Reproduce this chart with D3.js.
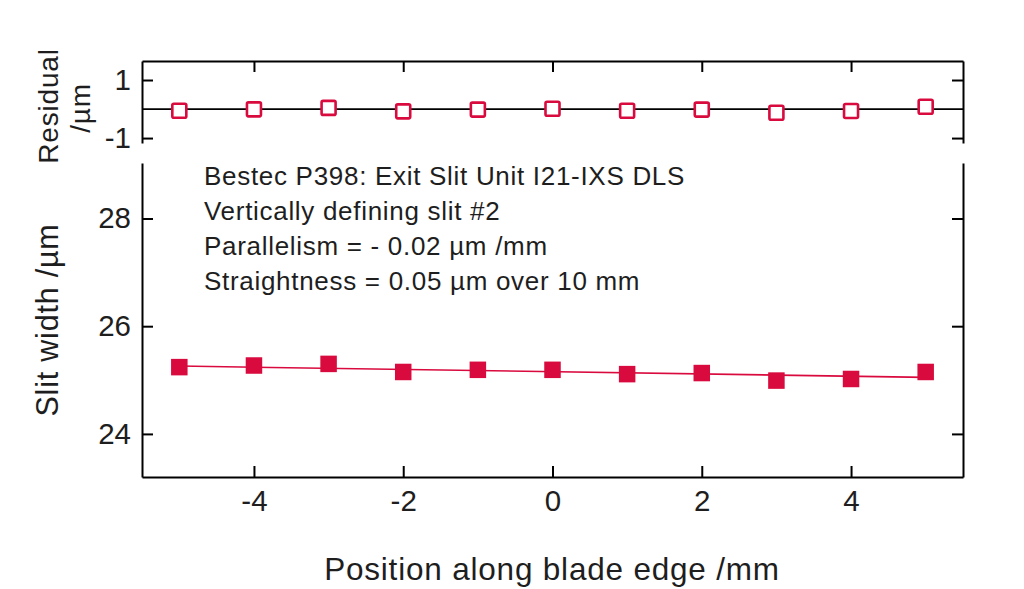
<!DOCTYPE html>
<html>
<head>
<meta charset="utf-8">
<script src="https://cdn.jsdelivr.net/npm/d3@7"></script>
<style>
html,body{margin:0;padding:0;background:#fff;}
svg{display:block;font-family:"Liberation Sans",Arial,Helvetica,sans-serif;}
</style>
</head>
<body>
<svg id="chart" width="1024" height="589"></svg>
<script>
// ---- data ----
const positions = [-5, -4, -3, -2, -1, 0, 1, 2, 3, 4, 5];
const slitWidth = [25.24, 25.27, 25.30, 25.15, 25.19, 25.19, 25.11, 25.13, 24.99, 25.02, 25.15];
const residuals = [-0.06, -0.01, 0.04, -0.08, -0.02, 0.01, -0.06, -0.02, -0.13, -0.07, 0.08];
const fitX = [-5, 5];
const fitY = [25.26, 25.05];
const xTicks = [-4, -2, 0, 2, 4];
const yTicks = [24, 26, 28];
const resTicks = [-1, 1];
const annotation = [
  "Bestec P398: Exit Slit Unit I21-IXS DLS",
  "Vertically defining slit #2",
  "Parallelism = - 0.02 \u00b5m /mm",
  "Straightness = 0.05 \u00b5m over 10 mm"
];
const xTitle = "Position along blade edge /mm";
const yTitle = "Slit width /\u00b5m";
const resTitle1 = "Residual";
const resTitle2 = "/\u00b5m";

// ---- layout ----
const L = 142, R = 963;
const mainTop = 163, mainBottom = 477;
const resTop = 61, resBottom = 143;
const red = "#d90a3e";
const ink = "#1e1e1e";
const svg = d3.select("#chart");

const x = d3.scaleLinear().domain([-5.5, 5.5]).range([L, R]);
const y = d3.scaleLinear().domain([23.2, 29.03]).range([mainBottom, mainTop]);
const yr = d3.scaleLinear().domain([-1.17, 1.655]).range([resBottom, resTop]);

const fmt = d => String(d);
const tickLen = 11;
function styleAxis(g){
  g.attr("font-family", null).attr("font-size", null);
  g.select(".domain").attr("stroke","#000").attr("stroke-width",2);
  g.selectAll(".tick line").attr("stroke","#000").attr("stroke-width",2);
  g.selectAll(".tick text").attr("fill",ink).style("font-size","29.5px");
}

// ---- main panel axes ----
const gxB = svg.append("g").attr("transform",`translate(0,${mainBottom})`)
  .call(d3.axisBottom(x).tickValues(xTicks).tickFormat(fmt).tickSize(-tickLen).tickPadding(13).tickSizeOuter(0));
styleAxis(gxB);

const gyL = svg.append("g").attr("transform",`translate(${L},0)`)
  .call(d3.axisLeft(y).tickValues(yTicks).tickFormat(fmt).tickSize(-tickLen).tickPadding(11).tickSizeOuter(0));
styleAxis(gyL);

const gyR = svg.append("g").attr("transform",`translate(${R},0)`)
  .call(d3.axisRight(y).tickValues(yTicks).tickSize(-tickLen).tickFormat("").tickSizeOuter(0));
styleAxis(gyR);

// ---- residual panel axes ----
const gxT = svg.append("g").attr("transform",`translate(0,${resTop})`)
  .call(d3.axisTop(x).tickValues(xTicks).tickSize(-tickLen).tickFormat("").tickSizeOuter(0));
styleAxis(gxT);

const grL = svg.append("g").attr("transform",`translate(${L},0)`)
  .call(d3.axisLeft(yr).tickValues(resTicks).tickFormat(fmt).tickSize(-tickLen).tickPadding(11).tickSizeOuter(0));
styleAxis(grL);

const grR = svg.append("g").attr("transform",`translate(${R},0)`)
  .call(d3.axisRight(yr).tickValues(resTicks).tickSize(-tickLen).tickFormat("").tickSizeOuter(0));
styleAxis(grR);

// zero line
svg.append("line")
  .attr("x1",x(-5.5)).attr("x2",x(5.5)).attr("y1",yr(0)).attr("y2",yr(0))
  .attr("stroke","#000").attr("stroke-width",1.8);

// residual markers (open squares)
const rs = 14;
svg.append("g").selectAll("rect").data(positions).join("rect")
  .attr("x",(d)=>x(d)-rs/2).attr("y",(d,i)=>yr(residuals[i])-rs/2)
  .attr("width",rs).attr("height",rs).attr("rx",1.5)
  .attr("fill","#fff").attr("stroke",red).attr("stroke-width",2.6);

// fit line
svg.append("path")
  .datum(fitX.map((v,i)=>[v,fitY[i]]))
  .attr("d",d3.line().x(d=>x(d[0])).y(d=>y(d[1])))
  .attr("fill","none").attr("stroke",red).attr("stroke-width",1.6);

// main markers (filled squares)
const ms = 16.5;
svg.append("g").selectAll("rect").data(positions).join("rect")
  .attr("x",(d)=>x(d)-ms/2).attr("y",(d,i)=>y(slitWidth[i])-ms/2)
  .attr("width",ms).attr("height",ms)
  .attr("fill",red);

// annotation
const ann = svg.append("text").attr("x",204).attr("y",185)
  .style("font-size","26px").style("letter-spacing","0.7px").attr("fill",ink);
annotation.forEach((t,i)=>{
  ann.append("tspan").attr("x",204).attr("dy", i===0?0:35).text(t);
});

// axis titles
svg.append("text").attr("x",552).attr("y",580)
  .attr("text-anchor","middle").style("font-size","31.5px").style("letter-spacing","0.8px")
  .attr("fill",ink).text(xTitle);

svg.append("text").attr("transform","translate(58,320) rotate(-90)")
  .attr("text-anchor","middle").style("font-size","30.5px").style("letter-spacing","0.8px")
  .attr("fill",ink).text(yTitle);

svg.append("text").attr("transform","translate(58,106) rotate(-90)")
  .attr("text-anchor","middle").style("font-size","28px").style("letter-spacing","0.8px")
  .attr("fill",ink).text(resTitle1);
svg.append("text").attr("transform","translate(90,108) rotate(-90)")
  .attr("text-anchor","middle").style("font-size","28px").style("letter-spacing","0.8px")
  .attr("fill",ink).text(resTitle2);
</script>
</body>
</html>
